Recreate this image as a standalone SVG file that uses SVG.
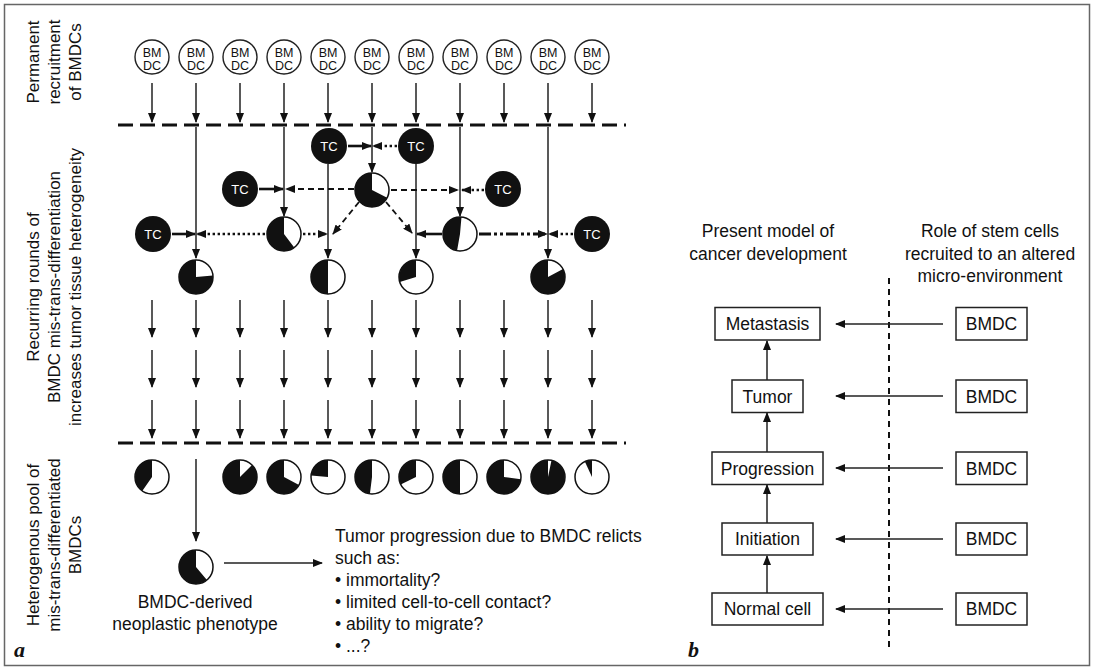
<svg xmlns="http://www.w3.org/2000/svg" width="1094" height="670" viewBox="0 0 1094 670">
<defs>
<style>
text{font-family:"Liberation Sans",Arial,Helvetica,sans-serif;fill:#111}
.t{font-size:17.5px}
.lab{font-size:17px}
.bm{font-size:12.5px;text-anchor:middle}
.tc{font-size:13px;text-anchor:middle;fill:#fff}
.ln{stroke:#222;stroke-width:1.5;fill:none}
.thick{stroke:#111;stroke-width:2.6;fill:none}
.dot{stroke:#111;stroke-width:2.4;stroke-dasharray:2.4 2.6;fill:none}
.dash{stroke:#111;stroke-width:1.8;stroke-dasharray:6 4;fill:none}
.dd{stroke:#111;stroke-width:3;stroke-dasharray:12 3 3 3 3 3;fill:none}
.bar{stroke:#111;stroke-width:3;stroke-dasharray:15 7;fill:none}
.vdash{stroke:#111;stroke-width:2;stroke-dasharray:6 5;fill:none}
.bmc{fill:#fff;stroke:#222;stroke-width:1.4}
.pie{fill:#fff;stroke:#111;stroke-width:1.5}
.blk{fill:#111}
.box{fill:#fff;stroke:#222;stroke-width:1.5}
.lt{font-family:"Liberation Serif","Times New Roman",serif;font-weight:bold;font-style:italic;font-size:22px}
</style>
<marker id="ah" viewBox="0 0 10 8" refX="9" refY="4" markerWidth="10" markerHeight="8" markerUnits="userSpaceOnUse" orient="auto"><path d="M0,0 L10,4 L0,8 z" fill="#111"/></marker>
</defs>
<rect x="4.5" y="4.5" width="1085" height="661" fill="#fff" stroke="#666" stroke-width="1.5"/>

<g id="labels">
<text class="lab" transform="translate(0,62) rotate(-90)" text-anchor="middle"><tspan x="0" y="39">Permanent</tspan><tspan x="0" y="60">recruitment</tspan><tspan x="0" y="81">of BMDCs</tspan></text>
<text class="lab" transform="translate(0,287) rotate(-90)" text-anchor="middle"><tspan x="0" y="39">Recurring rounds of</tspan><tspan x="0" y="60">BMDC mis-trans-differentiation</tspan><tspan x="0" y="81">increases tumor tissue heterogeneity</tspan></text>
<text class="lab" transform="translate(0,545) rotate(-90)" text-anchor="middle"><tspan x="0" y="39">Heterogenous pool of</tspan><tspan x="0" y="60">mis-trans-differentiated</tspan><tspan x="0" y="81">BMDCs</tspan></text>
<text class="lt" x="14" y="657">a</text>
<text class="lt" x="688" y="657">b</text>
</g>

<g id="bmdc-sources">
<g id="bmdc1"><circle class="bmc" cx="152" cy="57" r="17"/><text class="bm" x="152" y="57">BM</text><text class="bm" x="152" y="70">DC</text></g>
<g id="bmdc2"><circle class="bmc" cx="196" cy="57" r="17"/><text class="bm" x="196" y="57">BM</text><text class="bm" x="196" y="70">DC</text></g>
<g id="bmdc3"><circle class="bmc" cx="240" cy="57" r="17"/><text class="bm" x="240" y="57">BM</text><text class="bm" x="240" y="70">DC</text></g>
<g id="bmdc4"><circle class="bmc" cx="284" cy="57" r="17"/><text class="bm" x="284" y="57">BM</text><text class="bm" x="284" y="70">DC</text></g>
<g id="bmdc5"><circle class="bmc" cx="328" cy="57" r="17"/><text class="bm" x="328" y="57">BM</text><text class="bm" x="328" y="70">DC</text></g>
<g id="bmdc6"><circle class="bmc" cx="372" cy="57" r="17"/><text class="bm" x="372" y="57">BM</text><text class="bm" x="372" y="70">DC</text></g>
<g id="bmdc7"><circle class="bmc" cx="416" cy="57" r="17"/><text class="bm" x="416" y="57">BM</text><text class="bm" x="416" y="70">DC</text></g>
<g id="bmdc8"><circle class="bmc" cx="460" cy="57" r="17"/><text class="bm" x="460" y="57">BM</text><text class="bm" x="460" y="70">DC</text></g>
<g id="bmdc9"><circle class="bmc" cx="504" cy="57" r="17"/><text class="bm" x="504" y="57">BM</text><text class="bm" x="504" y="70">DC</text></g>
<g id="bmdc10"><circle class="bmc" cx="548" cy="57" r="17"/><text class="bm" x="548" y="57">BM</text><text class="bm" x="548" y="70">DC</text></g>
<g id="bmdc11"><circle class="bmc" cx="592" cy="57" r="17"/><text class="bm" x="592" y="57">BM</text><text class="bm" x="592" y="70">DC</text></g>
</g>

<g id="barriers">
<line class="bar" x1="118" y1="125" x2="626" y2="125"/>
<line class="bar" x1="118" y1="443" x2="626" y2="443"/>
</g>

<g id="tumor-cells">
<g id="tc1"><circle cx="153" cy="234" r="18" fill="#111"/><text class="tc" x="153" y="238.5">TC</text></g>
<g id="tc2"><circle cx="240" cy="189" r="18" fill="#111"/><text class="tc" x="240" y="193.5">TC</text></g>
<g id="tc3"><circle cx="329" cy="146" r="18" fill="#111"/><text class="tc" x="329" y="150.5">TC</text></g>
<g id="tc4"><circle cx="416" cy="146" r="18" fill="#111"/><text class="tc" x="416" y="150.5">TC</text></g>
<g id="tc5"><circle cx="503" cy="189" r="18" fill="#111"/><text class="tc" x="503" y="193.5">TC</text></g>
<g id="tc6"><circle cx="592" cy="234" r="18" fill="#111"/><text class="tc" x="592" y="238.5">TC</text></g>
</g>

<g id="connectors">
<!-- top recruitment arrows -->
<g class="ln" marker-end="url(#ah)">
<line x1="152" y1="83" x2="152" y2="122"/><line x1="196" y1="83" x2="196" y2="122"/><line x1="240" y1="83" x2="240" y2="122"/><line x1="284" y1="83" x2="284" y2="122"/><line x1="328" y1="83" x2="328" y2="122"/><line x1="372" y1="83" x2="372" y2="122"/><line x1="416" y1="83" x2="416" y2="122"/><line x1="460" y1="83" x2="460" y2="122"/><line x1="504" y1="83" x2="504" y2="122"/><line x1="548" y1="83" x2="548" y2="122"/><line x1="592" y1="83" x2="592" y2="122"/>
<!-- middle verticals -->
<line x1="196" y1="127" x2="196" y2="258"/>
<line x1="284" y1="127" x2="284" y2="216"/>
<line x1="328" y1="164" x2="328" y2="258"/>
<line x1="372" y1="127" x2="372" y2="172"/>
<line x1="416" y1="164" x2="416" y2="258"/>
<line x1="460" y1="127" x2="460" y2="216"/>
<line x1="548" y1="127" x2="548" y2="258"/>
<!-- rows of arrows -->
<line x1="152" y1="300" x2="152" y2="337"/><line x1="196" y1="300" x2="196" y2="337"/><line x1="240" y1="300" x2="240" y2="337"/><line x1="284" y1="300" x2="284" y2="337"/><line x1="328" y1="300" x2="328" y2="337"/><line x1="372" y1="300" x2="372" y2="337"/><line x1="416" y1="300" x2="416" y2="337"/><line x1="460" y1="300" x2="460" y2="337"/><line x1="504" y1="300" x2="504" y2="337"/><line x1="548" y1="300" x2="548" y2="337"/><line x1="592" y1="300" x2="592" y2="337"/>
<line x1="152" y1="350" x2="152" y2="387"/><line x1="196" y1="350" x2="196" y2="387"/><line x1="240" y1="350" x2="240" y2="387"/><line x1="284" y1="350" x2="284" y2="387"/><line x1="328" y1="350" x2="328" y2="387"/><line x1="372" y1="350" x2="372" y2="387"/><line x1="416" y1="350" x2="416" y2="387"/><line x1="460" y1="350" x2="460" y2="387"/><line x1="504" y1="350" x2="504" y2="387"/><line x1="548" y1="350" x2="548" y2="387"/><line x1="592" y1="350" x2="592" y2="387"/>
<line x1="152" y1="400" x2="152" y2="438"/><line x1="196" y1="400" x2="196" y2="438"/><line x1="240" y1="400" x2="240" y2="438"/><line x1="284" y1="400" x2="284" y2="438"/><line x1="328" y1="400" x2="328" y2="438"/><line x1="372" y1="400" x2="372" y2="438"/><line x1="416" y1="400" x2="416" y2="438"/><line x1="460" y1="400" x2="460" y2="438"/><line x1="504" y1="400" x2="504" y2="438"/><line x1="548" y1="400" x2="548" y2="438"/><line x1="592" y1="400" x2="592" y2="438"/>
<!-- bottom -->
<line x1="196" y1="459" x2="196" y2="541"/>
<line x1="224" y1="563" x2="322" y2="563"/>
</g>
<!-- interactions -->
<g marker-end="url(#ah)">
<line class="thick" x1="172" y1="234" x2="195" y2="234"/>
<line class="dot" x1="265" y1="234" x2="197" y2="234"/>
<line class="dot" x1="303" y1="234" x2="327" y2="234"/>
<line class="thick" x1="259" y1="189" x2="283" y2="189"/>
<line class="dash" x1="354" y1="189" x2="286" y2="189"/>
<line class="thick" x1="348" y1="146" x2="371" y2="146"/>
<line class="dot" x1="397" y1="146" x2="373" y2="146"/>
<line class="dash" x1="359" y1="202" x2="333" y2="234"/>
<line class="dash" x1="386" y1="202" x2="412" y2="233"/>
<line class="dash" x1="391" y1="190" x2="458" y2="190"/>
<line class="dot" x1="484" y1="190" x2="462" y2="190"/>
<line class="thick" x1="442" y1="234" x2="417" y2="234"/>
<line class="dd" x1="479" y1="234" x2="547" y2="234"/>
<line class="dot" x1="573" y1="234" x2="549" y2="234"/>
</g>
<!-- panel b -->
<line class="vdash" x1="889" y1="278" x2="889" y2="647"/>
<g class="ln" marker-end="url(#ah)">
<line x1="943" y1="324" x2="836" y2="324"/>
<line x1="943" y1="396" x2="836" y2="396"/>
<line x1="943" y1="468" x2="836" y2="468"/>
<line x1="943" y1="539" x2="836" y2="539"/>
<line x1="943" y1="609" x2="836" y2="609"/>
<line x1="767" y1="380" x2="767" y2="341"/>
<line x1="767" y1="452" x2="767" y2="413"/>
<line x1="767" y1="523" x2="767" y2="485"/>
<line x1="767" y1="593" x2="767" y2="556"/>
</g>
</g>

<g id="pies-mid">
<g id="pm2"><circle class="pie" cx="196" cy="277" r="17"/><path class="blk" d="M196,277 L212.94,275.52 A17,17 0 1 1 196,260 Z"/></g>
<g id="pm4"><circle class="pie" cx="284" cy="234" r="17"/><path class="blk" d="M284,234 L294.23,247.58 A17,17 0 1 1 284,217 Z"/></g>
<g id="pm6"><circle class="pie" cx="372" cy="190" r="17"/><path class="blk" d="M372,190 L387.15,197.72 A17,17 0 1 1 372,173 Z"/></g>
<g id="pm5"><circle class="pie" cx="328" cy="277" r="17"/><path class="blk" d="M328,277 L328,294 A17,17 0 0 1 328,260 Z"/></g>
<g id="pm7"><circle class="pie" cx="416" cy="277" r="17"/><path class="blk" d="M416,277 L399.74,281.97 A17,17 0 0 1 416,260 Z"/></g>
<g id="pm8"><circle class="pie" cx="460" cy="234" r="17"/><path class="blk" d="M460,234 L457.05,250.74 A17,17 0 0 1 461.48,217.06 Z"/></g>
<g id="pm10"><circle class="pie" cx="548" cy="277" r="17"/><path class="blk" d="M548,277 L563.01,269.02 A17,17 0 1 1 548,260 Z"/></g>
</g>

<g id="pies-pool">
<g id="pp1"><circle class="pie" cx="152" cy="477" r="17"/><path class="blk" d="M152,477 L142.25,490.93 A17,17 0 0 1 152,460 Z"/></g>
<g id="pp3"><circle class="pie" cx="240" cy="477" r="17"/><path class="blk" d="M240,477 L252.02,464.98 A17,17 0 1 1 240,460 Z"/></g>
<g id="pp4"><circle class="pie" cx="284" cy="477" r="17"/><path class="blk" d="M284,477 L299.01,484.98 A17,17 0 1 1 284,460 Z"/></g>
<g id="pp5"><circle class="pie" cx="328" cy="477" r="17"/><path class="blk" d="M328,477 L311.06,475.52 A17,17 0 0 1 328,460 Z"/></g>
<g id="pp6"><circle class="pie" cx="372" cy="477" r="17"/><path class="blk" d="M372,477 L369.93,493.87 A17,17 0 0 1 372,460 Z"/></g>
<g id="pp7"><circle class="pie" cx="416" cy="477" r="17"/><path class="blk" d="M416,477 L400.72,484.45 A17,17 0 0 1 416,460 Z"/></g>
<g id="pp8"><circle class="pie" cx="460" cy="477" r="17"/><path class="blk" d="M460,477 L460,494 A17,17 0 0 1 460,460 Z"/></g>
<g id="pp9"><circle class="pie" cx="504" cy="477" r="17"/><path class="blk" d="M504,477 L520.83,479.37 A17,17 0 1 1 504,460 Z"/></g>
<g id="pp10"><circle class="pie" cx="548" cy="477" r="17"/><path class="blk" d="M548,477 L551.53,460.37 A17,17 0 1 1 548,460 Z"/></g>
<g id="pp11"><circle class="pie" cx="592" cy="477" r="17"/><path class="blk" d="M592,477 L584.82,461.59 A17,17 0 0 1 592,460 Z"/></g>
</g>

<g id="phenotype">
<circle class="pie" cx="196" cy="567" r="17"/><path class="blk" d="M196,567 L206.93,580.02 A17,17 0 1 1 196,550 Z"/>
<text class="t" x="195" y="608" text-anchor="middle">BMDC-derived</text>
<text class="t" x="195" y="630" text-anchor="middle">neoplastic phenotype</text>
</g>

<g id="relicts">
<text class="t" x="335" y="542">Tumor progression due to BMDC relicts</text>
<text class="t" x="335" y="564">such as:</text>
<text class="t" x="335" y="586">• immortality?</text>
<text class="t" x="335" y="608">• limited cell-to-cell contact?</text>
<text class="t" x="335" y="630">• ability to migrate?</text>
<text class="t" x="335" y="652">• ...?</text>
</g>

<g id="panel-b-headers">
<text class="t" text-anchor="middle" x="768" y="237">Present model of</text>
<text class="t" text-anchor="middle" x="768" y="260">cancer development</text>
<text class="t" text-anchor="middle" x="990" y="237">Role of stem cells</text>
<text class="t" text-anchor="middle" x="990" y="260">recruited to an altered</text>
<text class="t" text-anchor="middle" x="990" y="282">micro-environment</text>
</g>

<g id="metastasis"><rect class="box" x="715" y="307.5" width="105" height="32.5"/><text class="t" text-anchor="middle" x="767.5" y="330">Metastasis</text></g>
<g id="tumor"><rect class="box" x="732" y="380" width="71" height="32.5"/><text class="t" text-anchor="middle" x="767.5" y="402.5">Tumor</text></g>
<g id="progression"><rect class="box" x="712" y="452" width="111" height="32.5"/><text class="t" text-anchor="middle" x="767.5" y="474.5">Progression</text></g>
<g id="initiation"><rect class="box" x="722" y="523" width="91" height="32"/><text class="t" text-anchor="middle" x="767.5" y="545">Initiation</text></g>
<g id="normal-cell"><rect class="box" x="712" y="593" width="111" height="32"/><text class="t" text-anchor="middle" x="767.5" y="615">Normal cell</text></g>
<g id="bmdc-b1"><rect class="box" x="956" y="307.5" width="71" height="32.5"/><text class="t" text-anchor="middle" x="991.5" y="330">BMDC</text></g>
<g id="bmdc-b2"><rect class="box" x="956" y="380" width="71" height="32.5"/><text class="t" text-anchor="middle" x="991.5" y="402.5">BMDC</text></g>
<g id="bmdc-b3"><rect class="box" x="956" y="452" width="71" height="32.5"/><text class="t" text-anchor="middle" x="991.5" y="474.5">BMDC</text></g>
<g id="bmdc-b4"><rect class="box" x="956" y="523" width="71" height="32"/><text class="t" text-anchor="middle" x="991.5" y="545">BMDC</text></g>
<g id="bmdc-b5"><rect class="box" x="956" y="593" width="71" height="32"/><text class="t" text-anchor="middle" x="991.5" y="615">BMDC</text></g>
</svg>
